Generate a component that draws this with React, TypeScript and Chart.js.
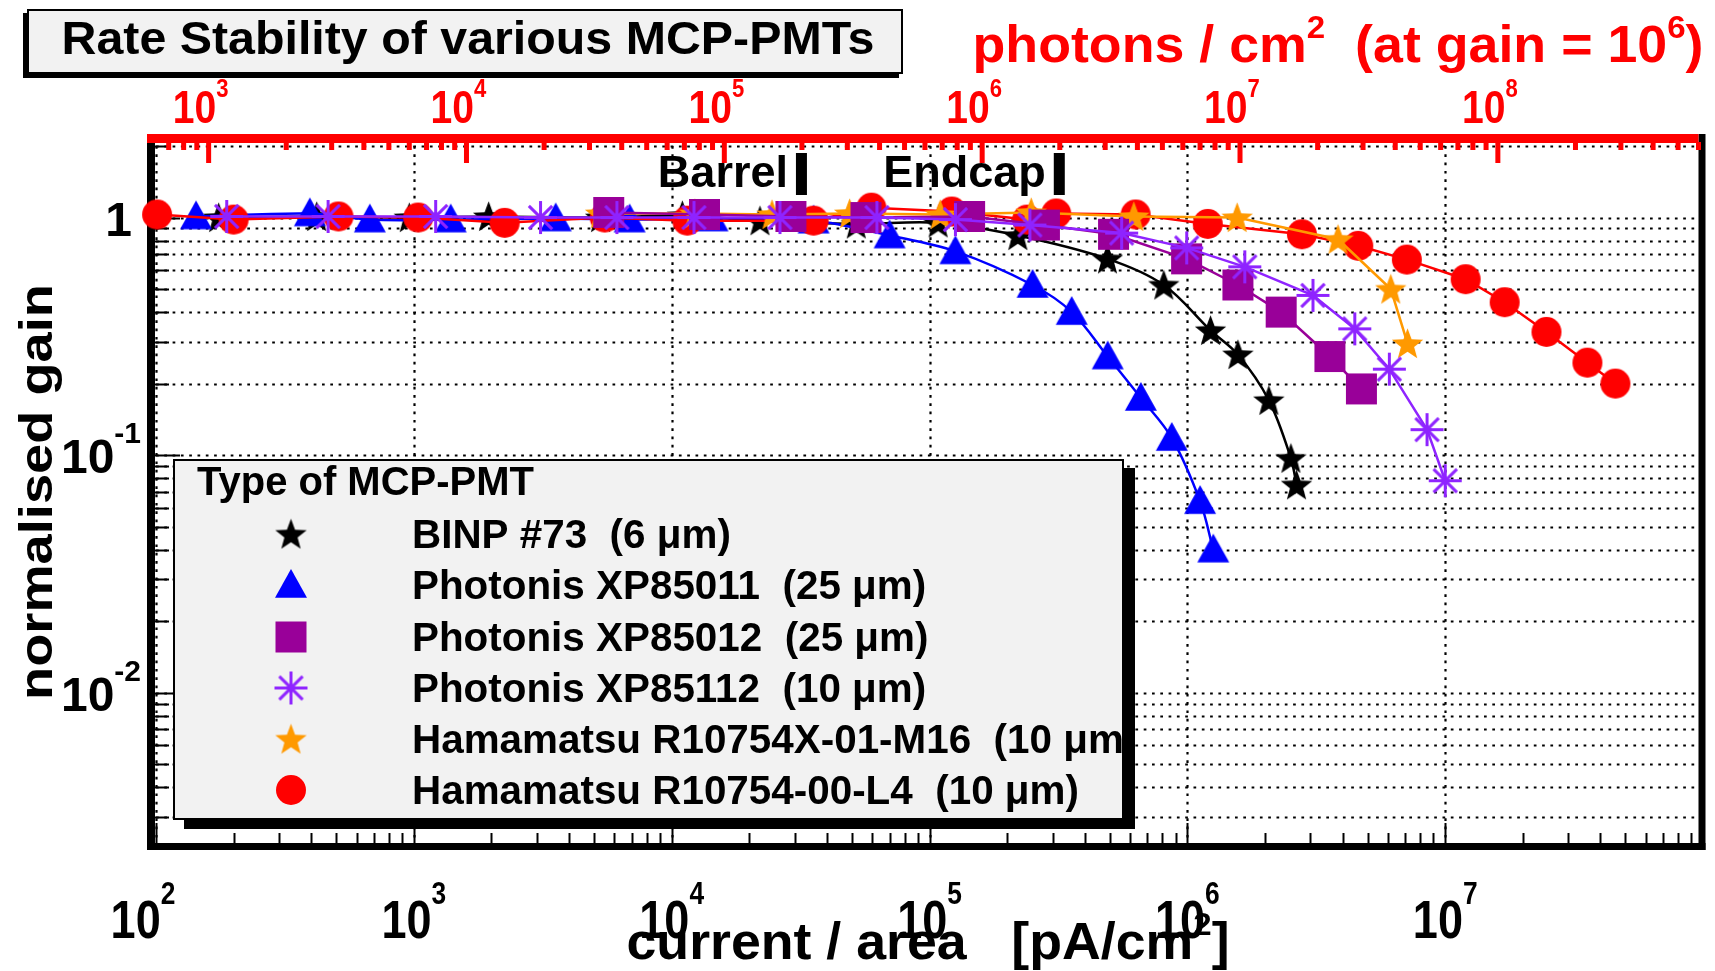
import React, { useEffect, useRef } from "react";
import { Chart, registerables } from "chart.js";

Chart.register(...registerables);

const FONT = '"Liberation Sans", Helvetica, Arial, sans-serif';

// ---------------- data ----------------
const seriesNames = [
  "BINP #73  (6 \u03bcm)",
  "Photonis XP85011  (25 \u03bcm)",
  "Photonis XP85012  (25 \u03bcm)",
  "Photonis XP85112  (10 \u03bcm)",
  "Hamamatsu R10754X-01-M16  (10 \u03bcm)",
  "Hamamatsu R10754-00-L4  (10 \u03bcm)",
];
const seriesColors = ["#000000", "#0000ff", "#990099", "#8f24ff", "#ff9900", "#ff0000"];
const seriesMarkers = ["star", "triangle", "square", "asterisk", "star", "circle"];

const binpCurrent = [175, 420, 960, 1950, 5300, 1.1e4, 2.2e4, 5.2e4, 1.08e5, 2.2e5, 4.9e5, 8.1e5, 1.23e6, 1.57e6, 2.07e6, 2.52e6, 2.65e6];
const binpGain = [1.0, 1.01, 1.0, 1.01, 1.0, 1.02, 0.97, 0.94, 0.95, 0.84, 0.67, 0.52, 0.335, 0.265, 0.17, 0.097, 0.075];

const xp85011Current = [143, 395, 675, 1390, 3550, 6870, 1.44e4, 3.55e4, 7.0e4, 1.26e5, 2.51e5, 3.56e5, 4.91e5, 6.6e5, 8.7e5, 1.12e6, 1.26e6];
const xp85011Gain = [1.01, 1.04, 0.98, 0.98, 0.99, 0.98, 0.99, 0.97, 0.84, 0.72, 0.52, 0.4, 0.26, 0.174, 0.118, 0.064, 0.04];

const xp85012Current = [5.7e3, 1.34e4, 2.9e4, 5.67e4, 1.43e5, 2.79e5, 5.17e5, 9.93e5, 1.57e6, 2.31e6, 3.57e6, 4.73e6];
const xp85012Gain = [1.05, 1.03, 1.01, 1.0, 1.01, 0.93, 0.85, 0.67, 0.52, 0.4, 0.26, 0.19];

const xp85112Current = [188, 465, 1215, 3100, 6130, 1.22e4, 2.63e4, 6.25e4, 1.26e5, 2.45e5, 5.56e5, 9.94e5, 1.67e6, 3.07e6, 4.46e6, 6.07e6, 8.5e6, 1.0e7];
const xp85112Gain = [1.01, 1.01, 1.01, 1.0, 1.0, 1.0, 1.0, 1.0, 0.98, 0.93, 0.86, 0.745, 0.62, 0.47, 0.34, 0.23, 0.128, 0.078];

const hamM16Current = [5.3e3, 1.23e4, 2.45e4, 4.9e4, 1.1e5, 2.48e5, 6.2e5, 1.56e6, 3.84e6, 6.15e6, 7.14e6];
const hamM16Gain = [1.04, 1.04, 1.03, 1.04, 1.03, 1.05, 1.01, 1.0, 0.81, 0.5, 0.295];

const hamL4Current = [101, 200, 510, 1040, 2250, 5500, 1.15e4, 3.55e4, 5.95e4, 1.22e5, 2.39e5, 3.1e5, 6.3e5, 1.2e6, 2.78e6, 4.6e6, 7.1e6, 1.2e7, 1.7e7, 2.47e7, 3.56e7, 4.57e7];
const hamL4Gain = [1.03, 0.98, 1.01, 1.0, 0.95, 1.0, 0.97, 0.97, 1.1, 1.06, 0.98, 1.04, 1.03, 0.94, 0.85, 0.76, 0.665, 0.55, 0.44, 0.33, 0.245, 0.2];

const xTickValues = [1e2, 1e3, 1e4, 1e5, 1e6, 1e7];
const xTickExponents = ["2", "3", "4", "5", "6", "7"];
const yTickValues = [1, 0.1, 0.01];
const yTickBases = ["1", "10", "10"];
const yTickExponents = ["", "-1", "-2"];
const topTickValues = [1e3, 1e4, 1e5, 1e6, 1e7, 1e8];
const topTickExponents = ["3", "4", "5", "6", "7", "8"];

const photonsPerCurrent = 6.25; // photons/cm2 per pA/cm2 at gain 1e6
const xMin = 100;
const xMax = 9.6e7;
const yMin = 2.33e-3;
const yMax = 2;

const annotationRates = [3.2e4, 3.2e5];
const annotationLabels = ["Barrel", "Endcap"];

const chartTitle = "Rate Stability of various MCP-PMTs";
const legendHeader = "Type of MCP-PMT";

// ---------------- helpers ----------------
function markerCanvas(kind: string, color: string, size: number) {
  const c = document.createElement("canvas");
  const s = Math.ceil(size) + 6;
  c.width = s;
  c.height = s;
  const g = c.getContext("2d") as CanvasRenderingContext2D;
  const m = s / 2;
  const r = size / 2;
  g.fillStyle = color;
  g.strokeStyle = color;
  if (kind === "circle") {
    g.beginPath();
    g.arc(m, m, r, 0, Math.PI * 2);
    g.fill();
  } else if (kind === "square") {
    g.fillRect(m - r, m - r, 2 * r, 2 * r);
  } else if (kind === "triangle") {
    g.beginPath();
    g.moveTo(m, m - r);
    g.lineTo(m + r, m + r * 0.8);
    g.lineTo(m - r, m + r * 0.8);
    g.closePath();
    g.fill();
  } else if (kind === "star") {
    g.beginPath();
    for (let i = 0; i < 10; i++) {
      const a = -Math.PI / 2 + (i * Math.PI) / 5;
      const rr = i % 2 === 0 ? r : r * 0.42;
      const px = m + rr * Math.cos(a);
      const py = m + 0.08 * r + rr * Math.sin(a);
      if (i === 0) g.moveTo(px, py);
      else g.lineTo(px, py);
    }
    g.closePath();
    g.fill();
  } else if (kind === "asterisk") {
    g.lineWidth = 3;
    for (let i = 0; i < 4; i++) {
      const a = (i * Math.PI) / 4;
      g.beginPath();
      g.moveTo(m - r * Math.cos(a), m - r * Math.sin(a));
      g.lineTo(m + r * Math.cos(a), m + r * Math.sin(a));
      g.stroke();
    }
  }
  return c;
}

const markerSizes: Record<string, number> = { star: 33, triangle: 32, square: 31, asterisk: 33, circle: 30 };

type Part = { t: string; size: number; rise?: number };

function richWidth(ctx: CanvasRenderingContext2D, parts: Part[]) {
  let w = 0;
  for (const p of parts) {
    ctx.font = `bold ${p.size}px ${FONT}`;
    w += ctx.measureText(p.t).width;
  }
  return w;
}

function drawRich(
  ctx: CanvasRenderingContext2D,
  parts: Part[],
  x: number,
  baseline: number,
  opts: { align?: string; color?: string; sx?: number; width?: number }
) {
  const raw = richWidth(ctx, parts);
  const sx = opts.width ? opts.width / raw : opts.sx ?? 1;
  const total = raw * sx;
  let x0 = x;
  if (opts.align === "center") x0 = x - total / 2;
  else if (opts.align === "right") x0 = x - total;
  ctx.save();
  ctx.fillStyle = opts.color ?? "#000";
  ctx.textBaseline = "alphabetic";
  ctx.textAlign = "left";
  ctx.translate(x0, baseline);
  ctx.scale(sx, 1);
  let cx = 0;
  for (const p of parts) {
    ctx.font = `bold ${p.size}px ${FONT}`;
    ctx.fillText(p.t, cx, -(p.rise ?? 0));
    cx += ctx.measureText(p.t).width;
  }
  ctx.restore();
  return total;
}

function decadeValues(min: number, max: number) {
  const out: { v: number; major: boolean }[] = [];
  const k0 = Math.floor(Math.log10(min));
  const k1 = Math.ceil(Math.log10(max));
  for (let k = k0; k <= k1; k++) {
    for (let m = 1; m <= 9; m++) {
      const v = m * Math.pow(10, k);
      if (v >= min * 0.9999 && v <= max * 1.0001) out.push({ v, major: m === 1 });
    }
  }
  return out;
}

const overlayPlugin = {
  id: "rootStyle",
  beforeDatasetsDraw(chart: any) {
    const ctx: CanvasRenderingContext2D = chart.ctx;
    const { left, right, top, bottom } = chart.chartArea;
    const xs = chart.scales.x;
    const ys = chart.scales.y;
    const xt = chart.scales.xTop;
    ctx.save();
    // dotted grid
    ctx.strokeStyle = "#000";
    ctx.lineWidth = 2.2;
    ctx.setLineDash([2.7, 5.6]);
    for (const d of decadeValues(xMin, xMax)) {
      if (!d.major) continue;
      const px = Math.round(xs.getPixelForValue(d.v)) + 0.5;
      ctx.beginPath();
      ctx.moveTo(px, top);
      ctx.lineTo(px, bottom);
      ctx.stroke();
    }
    for (const d of decadeValues(yMin, yMax)) {
      const py = Math.round(ys.getPixelForValue(d.v)) + 0.5;
      ctx.beginPath();
      ctx.moveTo(left, py);
      ctx.lineTo(right, py);
      ctx.stroke();
    }
    ctx.setLineDash([]);

    // ticks bottom / left (black)
    ctx.strokeStyle = "#000";
    ctx.lineWidth = 2;
    for (const d of decadeValues(xMin, xMax)) {
      const px = Math.round(xs.getPixelForValue(d.v)) + 0.5;
      ctx.beginPath();
      ctx.moveTo(px, bottom);
      ctx.lineTo(px, bottom - (d.major ? 20 : 10));
      ctx.stroke();
    }
    for (const d of decadeValues(yMin, yMax)) {
      const py = Math.round(ys.getPixelForValue(d.v)) + 0.5;
      ctx.beginPath();
      ctx.moveTo(left - 1, py);
      ctx.lineTo(left + (d.major ? 24 : 13), py);
      ctx.stroke();
    }

    // frame
    ctx.fillStyle = "#000";
    ctx.fillRect(left - 9, top - 3, 8, bottom - top + 10);
    ctx.fillRect(left - 9, bottom, right - left + 16, 7);
    ctx.fillRect(right, top - 12, 7, bottom - top + 19);
    // top red axis
    ctx.fillStyle = "#ff0000";
    ctx.fillRect(left - 9, top - 12, right - left + 9, 9);
    for (const d of decadeValues(xMin * photonsPerCurrent, xMax * photonsPerCurrent)) {
      const px = xt.getPixelForValue(d.v);
      ctx.fillRect(px - 2.5, top - 4, 5, d.major ? 21 : 8);
    }
    ctx.restore();
  },
  afterDatasetsDraw(chart: any) {
    const ctx: CanvasRenderingContext2D = chart.ctx;
    const xs = chart.scales.x;
    const ys = chart.scales.y;
    const xt = chart.scales.xTop;
    ctx.save();

    // bottom tick labels
    xTickValues.forEach((v, i) => {
      const px = xs.getPixelForValue(v) - (i === 0 ? 13 : 0);
      drawRich(ctx, [{ t: "10", size: 53 }, { t: xTickExponents[i], size: 31, rise: 34 }], px, 938, {
        align: "center",
        sx: 0.85,
      });
    });
    // left tick labels
    yTickValues.forEach((v, i) => {
      const py = ys.getPixelForValue(v);
      const parts: Part[] = [{ t: yTickBases[i], size: 48 }];
      if (yTickExponents[i]) parts.push({ t: yTickExponents[i], size: 30, rise: 30 });
      drawRich(ctx, parts, yTickExponents[i] ? 141 : 132, py + 18, { align: "right", sx: 1.0 });
    });
    // top tick labels (red)
    topTickValues.forEach((v, i) => {
      const px = xt.getPixelForValue(v) - 8;
      drawRich(ctx, [{ t: "10", size: 46 }, { t: topTickExponents[i], size: 26, rise: 26 }], px, 123, {
        align: "center",
        sx: 0.85,
        color: "#ff0000",
      });
    });

    // axis titles
    drawRich(
      ctx,
      [
        { t: "current / area   [pA/cm", size: 52 },
        { t: "2", size: 32, rise: 24 },
        { t: "]", size: 52 },
      ],
      928,
      959,
      { align: "center", width: 603 }
    );
    drawRich(
      ctx,
      [
        { t: "photons / cm", size: 52 },
        { t: "2", size: 32, rise: 24 },
        { t: "  (at gain = 10", size: 52 },
        { t: "6", size: 32, rise: 24 },
        { t: ")", size: 52 },
      ],
      1338,
      62,
      { align: "center", width: 731, color: "#ff0000" }
    );
    ctx.save();
    ctx.translate(52, 492);
    ctx.rotate(-Math.PI / 2);
    drawRich(ctx, [{ t: "normalised gain", size: 47 }], 0, 0, { align: "center", width: 416 });
    ctx.restore();

    // Barrel / Endcap annotations
    annotationRates.forEach((rate, i) => {
      const px = xs.getPixelForValue(rate);
      ctx.fillStyle = "#000";
      ctx.fillRect(px - 6, 153, 11, 42);
      drawRich(ctx, [{ t: annotationLabels[i], size: 45 }], px - 14, 187, { align: "right" });
    });

    // title box
    ctx.fillStyle = "#000";
    ctx.fillRect(23, 13, 876, 65);
    ctx.fillStyle = "#f2f2f2";
    ctx.fillRect(27, 9, 876, 65);
    ctx.strokeStyle = "#000";
    ctx.lineWidth = 2;
    ctx.strokeRect(28, 10, 874, 63);
    drawRich(ctx, [{ t: chartTitle, size: 46 }], 468, 54, { align: "center", width: 813 });

    // legend box
    const lx = 173, ly = 459, lw = 951, lh = 361;
    ctx.fillStyle = "#000";
    ctx.fillRect(lx + 11, ly + 9, lw, lh);
    ctx.fillStyle = "#f2f2f2";
    ctx.fillRect(lx, ly, lw, lh);
    ctx.strokeStyle = "#000";
    ctx.lineWidth = 2;
    ctx.strokeRect(lx + 1, ly + 1, lw - 2, lh - 2);
    ctx.save();
    ctx.beginPath();
    ctx.rect(lx, ly, lw - 2, lh);
    ctx.clip();
    drawRich(ctx, [{ t: legendHeader, size: 40 }], 197, 495, { width: 337 });
    const rowY = [534, 585, 637, 688, 739, 790];
    seriesNames.forEach((name, i) => {
      const mk = markerCanvas(seriesMarkers[i], seriesColors[i], markerSizes[seriesMarkers[i]]);
      ctx.drawImage(mk, 291 - mk.width / 2, rowY[i] - mk.height / 2);
      drawRich(ctx, [{ t: name, size: 40 }], 412, rowY[i] + 14, { sx: 1.01 });
    });
    ctx.restore();

    ctx.restore();
  },
};

function makeDataset(i: number, xsArr: number[], ysArr: number[], order: number, tension: number) {
  return {
    label: seriesNames[i],
    data: xsArr.map((x, k) => ({ x, y: ysArr[k] })),
    borderColor: seriesColors[i],
    backgroundColor: seriesColors[i],
    borderWidth: 2.5,
    pointStyle: markerCanvas(seriesMarkers[i], seriesColors[i], markerSizes[seriesMarkers[i]]),
    pointRadius: 14,
    pointHoverRadius: 14,
    tension,
    fill: false,
    order,
    clip: false as any,
  };
}

export default function App() {
  const ref = useRef<HTMLCanvasElement | null>(null);
  useEffect(() => {
    document.body.style.margin = "0";
    const canvas = ref.current;
    if (!canvas) return;
    const chart = new Chart(canvas, {
      type: "line",
      data: {
        datasets: [
          makeDataset(0, binpCurrent, binpGain, 5, 0.35),
          makeDataset(1, xp85011Current, xp85011Gain, 4, 0.35),
          makeDataset(5, hamL4Current, hamL4Gain, 3, 0),
          makeDataset(4, hamM16Current, hamM16Gain, 2, 0),
          makeDataset(2, xp85012Current, xp85012Gain, 1, 0),
          makeDataset(3, xp85112Current, xp85112Gain, 0, 0),
        ] as any,
      },
      options: {
        responsive: false,
        animation: false,
        devicePixelRatio: 1,
        events: [],
        layout: { padding: { left: 156, right: 15, top: 146, bottom: 128 } },
        plugins: { legend: { display: false }, title: { display: false }, tooltip: { enabled: false } },
        scales: {
          x: { type: "logarithmic", min: xMin, max: xMax, display: false },
          y: { type: "logarithmic", min: yMin, max: yMax, display: false },
          xTop: {
            type: "logarithmic",
            axis: "x",
            position: "top",
            min: xMin * photonsPerCurrent,
            max: xMax * photonsPerCurrent,
            display: false,
          },
        } as any,
      },
      plugins: [overlayPlugin as any],
    });
    return () => chart.destroy();
  }, []);
  return (
    <div style={{ width: 1715, height: 971, background: "#fff" }}>
      <canvas ref={ref} width={1715} height={971} style={{ display: "block" }} />
    </div>
  );
}
